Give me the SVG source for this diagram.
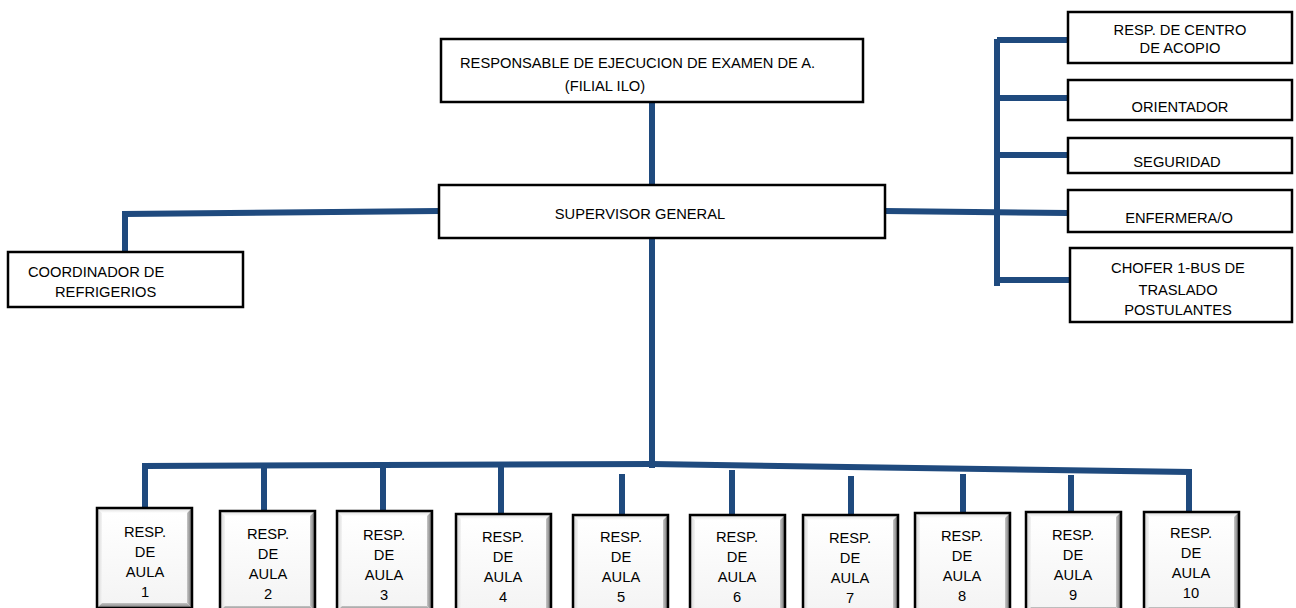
<svg xmlns="http://www.w3.org/2000/svg" width="1296" height="608" viewBox="0 0 1296 608">
<style>
.box{fill:#fff;stroke:#000;stroke-width:2.5}
.t{font-family:"Liberation Sans",Arial,sans-serif;font-size:14.7px;fill:#000}
.c{text-anchor:middle}
.ln{stroke:#1f4a7e;stroke-width:6;fill:none;stroke-linecap:butt}
</style>
<defs>
<linearGradient id="gt" x1="0" y1="0" x2="0" y2="1"><stop offset="0" stop-color="#d9d9d9"/><stop offset="1" stop-color="#ffffff"/></linearGradient>
<linearGradient id="gl" x1="0" y1="0" x2="1" y2="0"><stop offset="0" stop-color="#d0d0d0"/><stop offset="1" stop-color="#f4f4f4"/></linearGradient>
<linearGradient id="gr" x1="0" y1="0" x2="1" y2="0"><stop offset="0" stop-color="#c8c8c8"/><stop offset="1" stop-color="#6a6a6a"/></linearGradient>
<linearGradient id="gb" x1="0" y1="0" x2="0" y2="1"><stop offset="0" stop-color="#c4c4c4"/><stop offset="1" stop-color="#7a7a7a"/></linearGradient>
<linearGradient id="gf" x1="0" y1="0" x2="0" y2="1"><stop offset="0" stop-color="#ffffff"/><stop offset="1" stop-color="#f4f4f4"/></linearGradient>
<g id="bevel">
<rect x="0" y="0" width="95" height="100" fill="#fff"/>
<polygon points="0,0 95,0 90,5 5,5" fill="url(#gt)"/>
<polygon points="0,0 5,5 5,95 0,100" fill="url(#gl)"/>
<polygon points="95,0 95,100 90,95 90,5" fill="url(#gr)"/>
<polygon points="0,100 95,100 90,95 5,95" fill="url(#gb)"/>
<rect x="5" y="5" width="85" height="90" fill="url(#gf)"/>
<rect x="0" y="0" width="95" height="100" fill="none" stroke="#000" stroke-width="2.5"/>
</g>
</defs>

<g id="connectors">
<line class="ln" x1="652" y1="102" x2="652" y2="185"/>
<polyline class="ln" points="439,211 125,214 125,252"/>
<line class="ln" x1="885" y1="211" x2="1068" y2="213"/>
<line class="ln" x1="997" y1="39" x2="997" y2="286"/>
<line class="ln" x1="997" y1="40" x2="1068" y2="40"/>
<line class="ln" x1="997" y1="98" x2="1068" y2="98"/>
<line class="ln" x1="997" y1="155" x2="1068" y2="155"/>
<line class="ln" x1="997" y1="280" x2="1070" y2="280"/>
<line class="ln" x1="652" y1="238" x2="652" y2="468"/>
<polyline class="ln" points="145,508 145,466 652,464 1189,472 1189,512"/>
<line class="ln" x1="264" y1="466" x2="264" y2="511"/>
<line class="ln" x1="383" y1="467" x2="383" y2="511"/>
<line class="ln" x1="501" y1="467" x2="501" y2="514"/>
<line class="ln" x1="622" y1="474" x2="622" y2="515"/>
<line class="ln" x1="732" y1="470" x2="732" y2="515"/>
<line class="ln" x1="851" y1="476" x2="851" y2="515"/>
<line class="ln" x1="963" y1="474" x2="963" y2="513"/>
<line class="ln" x1="1071" y1="475" x2="1071" y2="511"/>
</g>

<g id="n-top"><rect class="box" x="441" y="39" width="422" height="63"/>
<text class="t" x="460" y="68">RESPONSABLE DE EJECUCION DE EXAMEN DE A.</text>
<text class="t c" x="605" y="91">(FILIAL ILO)</text></g>

<g id="n-sup"><rect class="box" x="439" y="185" width="446" height="53"/>
<text class="t c" x="640" y="219">SUPERVISOR GENERAL</text></g>

<g id="n-coord"><rect class="box" x="8" y="252" width="235" height="55"/>
<text class="t" x="28" y="277">COORDINADOR DE</text>
<text class="t" x="55" y="297">REFRIGERIOS</text></g>

<g id="n-acopio"><rect class="box" x="1068" y="12" width="224" height="51"/>
<text class="t c" x="1180" y="35">RESP. DE CENTRO</text>
<text class="t c" x="1180" y="53">DE ACOPIO</text></g>

<g id="n-orient"><rect class="box" x="1068" y="80" width="224" height="40"/>
<text class="t c" x="1180" y="112">ORIENTADOR</text></g>

<g id="n-seg"><rect class="box" x="1068" y="138" width="224" height="35"/>
<text class="t c" x="1177" y="167">SEGURIDAD</text></g>

<g id="n-enf"><rect class="box" x="1068" y="190" width="224" height="42"/>
<text class="t c" x="1179" y="223">ENFERMERA/O</text></g>

<g id="n-chofer"><rect class="box" x="1070" y="248" width="222" height="74"/>
<text class="t c" x="1178" y="273">CHOFER 1-BUS DE</text>
<text class="t c" x="1178" y="295">TRASLADO</text>
<text class="t c" x="1178" y="315">POSTULANTES</text></g>

<g id="n-aula1"><use href="#bevel" x="97" y="508"/>
<text class="t c" x="145" y="537">RESP.</text><text class="t c" x="145" y="557">DE</text><text class="t c" x="145" y="577">AULA</text><text class="t c" x="145" y="597">1</text></g>
<g id="n-aula2"><use href="#bevel" x="220" y="511"/>
<text class="t c" x="268" y="539">RESP.</text><text class="t c" x="268" y="559">DE</text><text class="t c" x="268" y="579">AULA</text><text class="t c" x="268" y="599">2</text></g>
<g id="n-aula3"><use href="#bevel" x="337" y="511"/>
<text class="t c" x="384" y="540">RESP.</text><text class="t c" x="384" y="560">DE</text><text class="t c" x="384" y="580">AULA</text><text class="t c" x="384" y="600">3</text></g>
<g id="n-aula4"><use href="#bevel" x="456" y="514"/>
<text class="t c" x="503" y="542">RESP.</text><text class="t c" x="503" y="562">DE</text><text class="t c" x="503" y="582">AULA</text><text class="t c" x="503" y="602">4</text></g>
<g id="n-aula5"><use href="#bevel" x="573" y="515"/>
<text class="t c" x="621" y="542">RESP.</text><text class="t c" x="621" y="562">DE</text><text class="t c" x="621" y="582">AULA</text><text class="t c" x="621" y="602">5</text></g>
<g id="n-aula6"><use href="#bevel" x="690" y="515"/>
<text class="t c" x="737" y="542">RESP.</text><text class="t c" x="737" y="562">DE</text><text class="t c" x="737" y="582">AULA</text><text class="t c" x="737" y="602">6</text></g>
<g id="n-aula7"><use href="#bevel" x="803" y="515"/>
<text class="t c" x="850" y="543">RESP.</text><text class="t c" x="850" y="563">DE</text><text class="t c" x="850" y="583">AULA</text><text class="t c" x="850" y="603">7</text></g>
<g id="n-aula8"><use href="#bevel" x="915" y="513"/>
<text class="t c" x="962" y="541">RESP.</text><text class="t c" x="962" y="561">DE</text><text class="t c" x="962" y="581">AULA</text><text class="t c" x="962" y="601">8</text></g>
<g id="n-aula9"><use href="#bevel" x="1026" y="512"/>
<text class="t c" x="1073" y="540">RESP.</text><text class="t c" x="1073" y="560">DE</text><text class="t c" x="1073" y="580">AULA</text><text class="t c" x="1073" y="600">9</text></g>
<g id="n-aula10"><use href="#bevel" x="1144" y="512"/>
<text class="t c" x="1191" y="538">RESP.</text><text class="t c" x="1191" y="558">DE</text><text class="t c" x="1191" y="578">AULA</text><text class="t c" x="1191" y="598">10</text></g>
</svg>
